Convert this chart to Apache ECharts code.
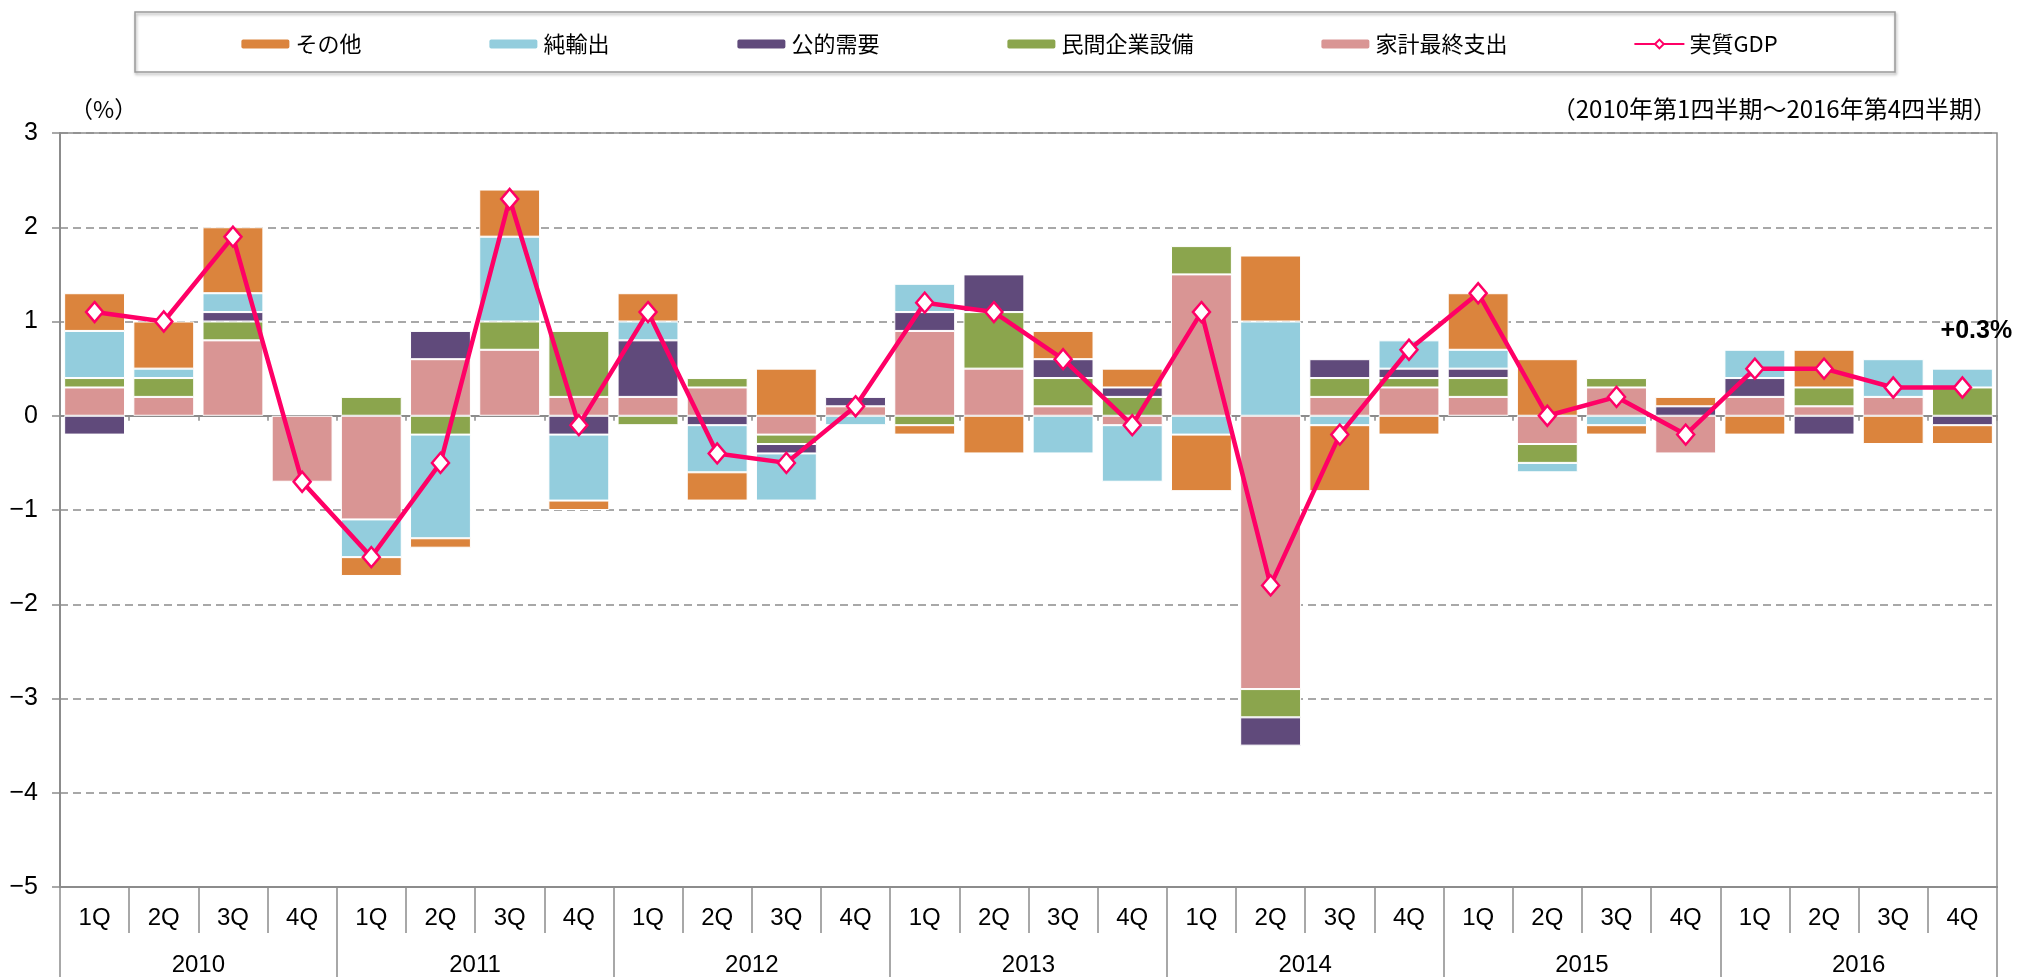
<!DOCTYPE html>
<html>
<head>
<meta charset="utf-8">
<script src="https://cdn.jsdelivr.net/npm/echarts@6/dist/echarts.min.js"></script>
<style>
  html, body { margin: 0; padding: 0; background: #fff; }
  #main { width: 2017px; height: 977px; }
</style>
</head>
<body>
<div id="main"></div>
<script>
  // 四半期・年
  const quarters = [];
  const years = ["2010", "2011", "2012", "2013", "2014", "2015", "2016"];
  years.forEach(function () {
    quarters.push("1Q", "2Q", "3Q", "4Q");
  });

  // 寄与度（%ポイント）
  const kakei = [0.3, 0.2, 0.8, -0.7, -1.1, 0.6, 0.7, 0.2, 0.2, 0.3, -0.2, 0.1, 0.9, 0.5, 0.1, -0.1, 1.5, -2.9, 0.2, 0.3, 0.2, -0.3, 0.3, -0.4, 0.2, 0.1, 0.2, 0];
  const minkan = [0.1, 0.2, 0.2, 0, 0.2, -0.2, 0.3, 0.7, -0.1, 0.1, -0.1, 0, -0.1, 0.6, 0.3, 0.2, 0.3, -0.3, 0.2, 0.1, 0.2, -0.2, 0.1, 0, 0, 0.2, 0, 0.3];
  const koteki = [-0.2, 0, 0.1, 0, 0, 0.3, 0, -0.2, 0.6, -0.1, -0.1, 0.1, 0.2, 0.4, 0.2, 0.1, 0, -0.3, 0.2, 0.1, 0.1, 0, 0, 0.1, 0.2, -0.2, 0, -0.1];
  const junyushutsu = [0.5, 0.1, 0.2, 0, -0.4, -1.1, 0.9, -0.7, 0.2, -0.5, -0.5, -0.1, 0.3, 0, -0.4, -0.6, -0.2, 1.0, -0.1, 0.3, 0.2, -0.1, -0.1, 0, 0.3, 0, 0.4, 0.2];
  const sonota = [0.4, 0.5, 0.7, 0, -0.2, -0.1, 0.5, -0.1, 0.3, -0.3, 0.5, 0, -0.1, -0.4, 0.3, 0.2, -0.6, 0.7, -0.7, -0.2, 0.6, 0.6, -0.1, 0.1, -0.2, 0.4, -0.3, -0.2];
  const gdp = [1.1, 1.0, 1.9, -0.7, -1.5, -0.5, 2.3, -0.1, 1.1, -0.4, -0.5, 0.1, 1.2, 1.1, 0.6, -0.1, 1.1, -1.8, -0.2, 0.7, 1.3, 0.0, 0.2, -0.2, 0.5, 0.5, 0.3, 0.3];

  const legendData = ["その他", "純輸出", "公的需要", "民間企業設備", "家計最終支出", "実質GDP"];

  const jpFont = "'Noto Sans CJK JP', sans-serif";
  const numFont = "'Liberation Sans', Arial, sans-serif";
  const gray = "#8c8c8c";

  // 0 は描かない（白い枠線だけ残るため）
  function barData(arr) {
    return arr.map(function (v) { return v === 0 ? "-" : v; });
  }

  function barSeries(name, arr, color) {
    return {
      name: name,
      type: "bar",
      stack: "total",
      xAxisIndex: 0,
      barCategoryGap: "12%",
      itemStyle: { color: color, borderColor: "#fff", borderWidth: 1 },
      data: barData(arr),
    };
  }

  const gdpData = gdp.map(function (v, i) {
    if (i === gdp.length - 1) {
      return {
        value: v,
        label: {
          show: true,
          position: "top",
          formatter: "+0.3%",
          fontSize: 25,
          fontWeight: "bold",
          fontFamily: numFont,
          color: "#000",
          offset: [14, -28],
        },
      };
    }
    return v;
  });

  const myChart = echarts.init(document.getElementById("main"));

  const option = {
    backgroundColor: "#fff",
    animation: false,
    textStyle: { fontFamily: numFont },
    legend: {
      data: legendData,
      left: "center",
      top: 28,
      itemWidth: 50,
      itemHeight: 11,
      itemGap: 126,
      textStyle: { fontSize: 22, fontFamily: jpFont, color: "#000" },
    },
    graphic: [
      {
        type: "rect",
        shape: { x: 135, y: 12, width: 1760, height: 60 },
        style: {
          fill: "none",
          stroke: "#9a9a9a",
          lineWidth: 1.5,
          shadowBlur: 3,
          shadowOffsetX: 1,
          shadowOffsetY: 2,
          shadowColor: "rgba(0,0,0,0.35)",
        },
        silent: true,
      },
      {
        type: "text",
        left: 70,
        top: 98,
        style: { text: "（%）", fontSize: 23, fontFamily: jpFont, fill: "#000" },
      },
      {
        type: "text",
        right: 20,
        top: 97,
        style: { text: "（2010年第1四半期～2016年第4四半期）", fontSize: 24, fontFamily: jpFont, fill: "#000" },
      },
    ],
    grid: {
      left: 60,
      right: 20,
      top: 133,
      bottom: 90,
      show: true,
      borderColor: gray,
      borderWidth: 1.5,
    },
    xAxis: [
      {
        // 0 の位置の軸
        type: "category",
        data: quarters,
        position: "bottom",
        axisLine: { onZero: true, lineStyle: { color: gray, width: 2 } },
        axisTick: { show: true, length: 5, lineStyle: { color: gray, width: 1.5 } },
        axisLabel: { show: false },
      },
      {
        type: "category",
        data: quarters,
        position: "bottom",
        axisLine: { onZero: false, lineStyle: { color: gray, width: 2 } },
        axisTick: { show: true, length: 46, lineStyle: { color: gray, width: 1.5 } },
        axisLabel: { fontSize: 24, color: "#000", margin: 19 },
      },
      {
        type: "category",
        data: years,
        position: "bottom",
        axisLine: { onZero: false, lineStyle: { color: gray, width: 2 } },
        axisTick: { show: true, length: 90, lineStyle: { color: gray, width: 1.5 } },
        axisLabel: { fontSize: 24, color: "#000", margin: 66 },
      },
    ],
    yAxis: {
      type: "value",
      min: -5,
      max: 3,
      interval: 1,
      axisLine: { show: true, lineStyle: { color: gray, width: 2 } },
      axisTick: { show: true, length: 8, lineStyle: { color: gray, width: 1.5 } },
      axisLabel: {
        fontSize: 25,
        color: "#000",
        margin: 22,
        formatter: function (v) { return String(v).replace("-", "\u2212"); },
      },
      splitLine: { lineStyle: { color: gray, width: 1.5, type: [8, 5] } },
    },
    series: [
      barSeries("家計最終支出", kakei, "#D99594"),
      barSeries("民間企業設備", minkan, "#8BA54D"),
      barSeries("公的需要", koteki, "#604A7B"),
      barSeries("純輸出", junyushutsu, "#93CDDD"),
      barSeries("その他", sonota, "#DB843D"),
      {
        name: "実質GDP",
        type: "line",
        xAxisIndex: 0,
        z: 5,
        symbol: "diamond",
        symbolSize: [17, 20],
        showAllSymbol: true,
        lineStyle: { color: "#FF0066", width: 4.5 },
        itemStyle: { color: "#fff", borderColor: "#FF0066", borderWidth: 2.5 },
        data: gdpData,
      },
    ],
  };

  myChart.setOption(option);

  window.addEventListener("resize", function () {
    myChart.resize();
  });
</script>
</body>
</html>
